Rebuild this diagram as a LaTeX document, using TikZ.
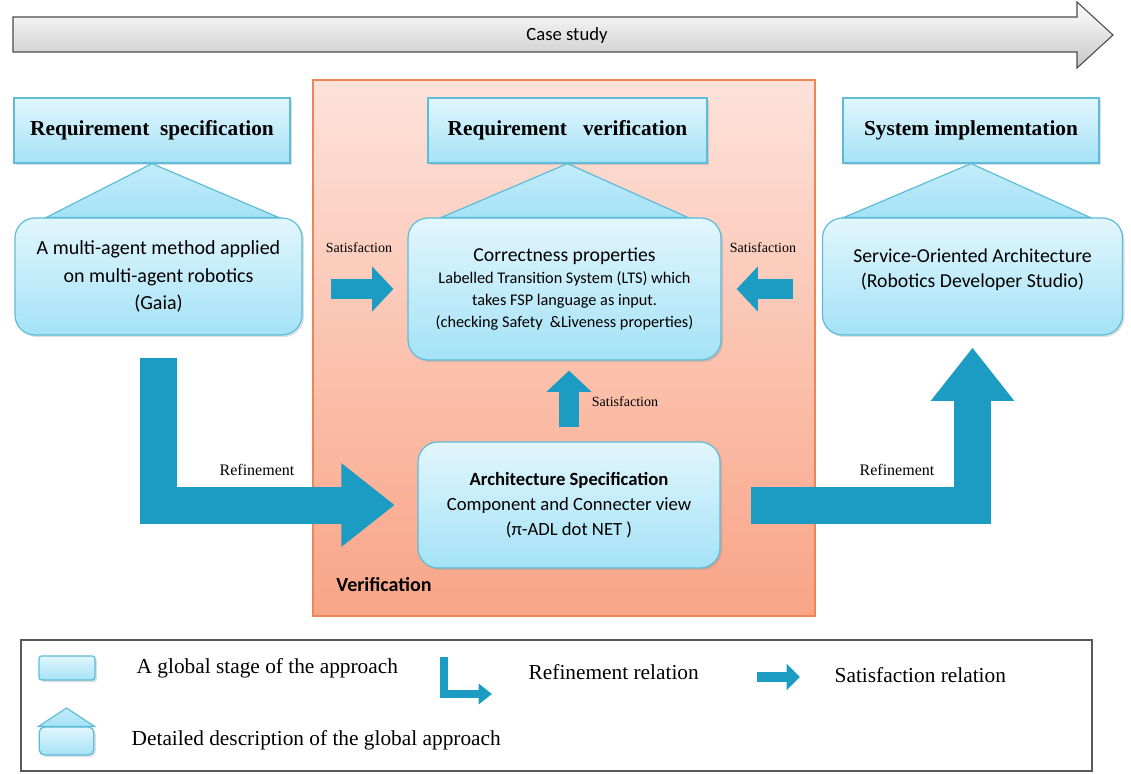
\documentclass[tikz,border=0pt]{standalone}
\usepackage{fontspec}
\setmainfont{Carlito}
\newfontfamily\cambria{Liberation Serif}
\usetikzlibrary{arrows.meta,shadows,calc}

\definecolor{boxtop}{HTML}{E2F6FD}
\definecolor{boxbot}{HTML}{A4E2F6}
\definecolor{boxline}{HTML}{5DBCD9}
\definecolor{vertop}{HTML}{FDE2DA}
\definecolor{verbot}{HTML}{F9A486}
\definecolor{verline}{HTML}{EE8555}
\definecolor{arrowblue}{HTML}{1C9CC2}

\tikzset{
  stagebox/.style={draw=boxline,line width=0.9pt,top color=boxtop,bottom color=boxbot,
    drop shadow={opacity=0.25,shadow xshift=1.5pt,shadow yshift=-1.5pt},align=center},
  headbox/.style={stagebox,minimum height=48.75pt,font=\cambria\bfseries\fontsize{16}{19}\selectfont},
  detailbox/.style={stagebox,rounded corners=15pt},
  roof/.style={draw=boxline,line width=0.9pt,top color=boxtop!50!boxbot,bottom color=boxbot},
  refine/.style={draw=arrowblue,line width=27.75pt,line join=miter,-{Triangle[length=40pt,width=60pt]}},
  satisfy/.style={draw=arrowblue,line width=15pt,-{Triangle[length=16pt,width=33pt]}},
  satlabel/.style={font=\cambria\fontsize{10.5}{12}\selectfont},
  reflabel/.style={font=\cambria\fontsize{12}{14}\selectfont},
  legendtext/.style={anchor=west,font=\cambria\fontsize{16}{19}\selectfont},
}

\begin{document}
\begin{tikzpicture}[x=0.75pt,y=-0.75pt]
\useasboundingbox (0,0) rectangle (1131,774);

% case study band
\shade [top color=white,bottom color=black!22,draw=black!70,line width=0.8pt]
  (13,17) -- (1077,17) -- (1077,2) -- (1113,35) -- (1077,68) -- (1077,52) -- (13,52) -- cycle;
\node (case) at (567,36) [font=\fontsize{14}{16}\selectfont] {Case study};

% verification area
\node (verarea) at (564,348) [minimum width=376.5pt,minimum height=402pt,top color=vertop,bottom color=verbot,draw=verline,line width=1pt] {};
\node (verlabel) at (384,585) [font=\bfseries\fontsize{15}{17}\selectfont] {Verification};

% stages
\node (reqspec) at (152,130.5) [headbox,minimum width=207pt] {Requirement\ \ specification};
\node (reqver) at (567.5,130.5) [headbox,minimum width=209.25pt] {Requirement\ \ \ verification};
\node (sysimpl) at (971,130.5) [headbox,minimum width=192pt] {System implementation};

\node (gaia) at (158.5,276.5) [detailbox,minimum width=215.25pt,minimum height=87.75pt,font=\fontsize{15}{20.5}\selectfont]
  {A multi-agent method applied\\on multi-agent robotics\\(Gaia)};
\node (correct) at (564.5,289) [detailbox,minimum width=234.75pt,minimum height=106.5pt,font=\fontsize{12.2}{16.5}\selectfont]
  {{\fontsize{14.8}{16.5}\selectfont Correctness properties}\\Labelled Transition System (LTS) which\\takes FSP language as input.\\(checking Safety\ \ \&Liveness properties)};
\node (soa) at (972.5,276.5) [detailbox,minimum width=225pt,minimum height=87.75pt,font=\fontsize{14.8}{18.75}\selectfont,text depth=12pt]
  {Service-Oriented Architecture\\(Robotics Developer Studio)};
\node (arch) at (569,505) [detailbox,minimum width=226.5pt,minimum height=94.5pt,font=\fontsize{14}{18.75}\selectfont]
  {\textbf{Architecture Specification}\\Component and Connecter view\\(π-ADL dot NET )};

% detail roofs
\path [roof] (reqspec.south) -- ([xshift=24pt]gaia.north west) -- ([xshift=-18pt]gaia.north east) -- cycle;
\path [roof] (reqver.south) -- ([xshift=25.5pt]correct.north west) -- ([xshift=-25.5pt]correct.north east) -- cycle;
\path [roof] (sysimpl.south) -- ([xshift=16.5pt]soa.north west) -- ([xshift=-24.75pt]soa.north east) -- cycle;

% refinement
\coordinate (refstart) at ([yshift=-16.5pt]gaia.south);
\coordinate (refstart2) at ([xshift=22.5pt]arch.east);
\draw [refine,shorten >=17pt] (refstart) |- (arch.west);
\draw [refine,shorten >=9pt] (refstart2) -| (soa.south);
\node (refl) at (257,470) [reflabel] {Refinement};
\node (refr) at (897,470) [reflabel] {Refinement};

% satisfaction
\draw [satisfy] ($(correct.west)+(-76,0)$) -- ($(correct.west)+(-14,0)$);
\draw [satisfy] ($(correct.east)+(71,0)$) -- ($(correct.east)+(15,0)$);
\draw [satisfy] ($(arch.north)+(0,-14)$) -- ($(arch.north |- correct.south)+(0,10)$);
\node (satl) at (359,248) [satlabel] {Satisfaction};
\node (satr) at (763,248) [satlabel] {Satisfaction};
\node (satu) at (625,402) [satlabel] {Satisfaction};

% legend
\node (legend) at (556.5,705.5) [draw=black!65,line width=1pt,minimum width=803.25pt,minimum height=98.25pt] {};
\node (lgstage) at (67,668) [stagebox,minimum width=42pt,minimum height=18pt,rounded corners=2pt] {};
\node (lgstagetxt) at (132,668) [legendtext] {A global stage of the approach};
\node (lgdetail) at (66.5,741) [stagebox,minimum width=41pt,minimum height=21pt,rounded corners=4pt] {};
\coordinate (lgapex) at (66.5,708);
\path [roof] (lgapex) -- (lgdetail.north west) -- (lgdetail.north east) -- cycle;
\node (lgdetailtxt) at (127,740) [legendtext] {Detailed description of the global approach};
\coordinate (lgreftop) at (443.5,657);
\coordinate (lgreftip) at (492,694);
\draw [refine,line width=6pt,-{Triangle[length=10pt,width=15pt]}] (lgreftop) |- (lgreftip);
\node (lgreftxt) at (524,672) [legendtext] {Refinement relation};
\coordinate (lgsatA) at (757,677);
\coordinate (lgsatB) at (800,677);
\draw [satisfy,line width=7.5pt,-{Triangle[length=10pt,width=19pt]}] (lgsatA) -- (lgsatB);
\node (lgsattxt) at (830,675) [legendtext] {Satisfaction relation};

\end{tikzpicture}
\end{document}
